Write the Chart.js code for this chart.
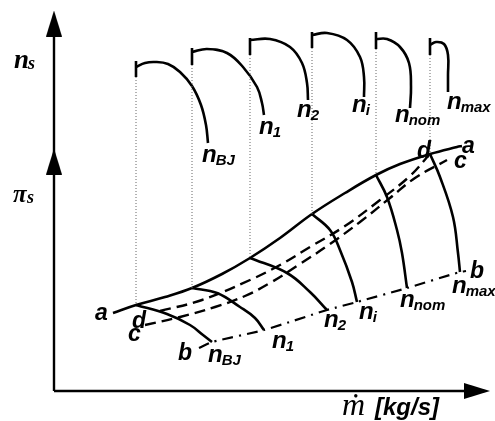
<!DOCTYPE html>
<html>
<head>
<meta charset="utf-8">
<script src="https://cdn.jsdelivr.net/npm/chart.js@4.4.0/dist/chart.umd.min.js"></script>
<style>
  body { margin: 0; background: #fff; }
  #wrap { width: 495px; height: 421px; position: relative; }
</style>
</head>
<body>
<div id="wrap"><canvas id="map"></canvas></div>
<script>
// schematic units: x = mass flow, y = pressure ratio / speed (origin at axis corner)

// speed lines, names
var speedNames = ['BJ', '1', '2', 'i', 'nom', 'max'];

// surge line a-d
var surgeLine = [[59,78],[82,86],[111,94],[138,103],[168,117],[196,133],[226,153],[258,177],[291,198],[322,216],[346,227],[376,237],[403,244],[408,245]];

// choke line b
var chokeLine = [[145,43],[158,49],[210,61],[273,81],[303,89],[353,103],[406,119],[412,120]];

// operating lines
var lineD = [[106,80],[148,91],[196,111],[226,126],[256,144],[291,165],[326,191],[356,215],[375,236]];
var lineC = [[91,66],[126,74],[161,84],[191,95],[216,108],[246,127],[276,147],[306,169],[336,193],[361,213],[393,231]];

// constant speed lines on the compressor map
var mapBJ  = [[82,86],[113,77],[136,66],[149,56],[158,49]];
var map1   = [[138,103],[163,98],[186,84],[201,73],[210,61]];
var map2   = [[196,133],[233,118],[256,99],[273,81]];
var mapI   = [[258,177],[276,161],[286,141],[298,109],[303,89]];
var mapNom = [[322,216],[333,194],[343,161],[348,138],[353,103]];
var mapMax = [[376,237],[386,214],[399,174],[404,138],[406,119]];

// speed curves in the upper diagram
var topBJ  = [[82,324],[91,328],[101,329],[114,327],[126,319],[138,305],[147,286],[152,266],[154,248]];
var top1   = [[138,339],[153,342],[173,338],[189,324],[203,304],[208,288],[210,276]];
var top2   = [[196,351],[216,352],[236,344],[248,328],[253,308],[254,291]];
var topI   = [[258,356],[273,358],[293,351],[306,334],[310,314],[310,294]];
var topNom = [[322,352],[333,352],[346,344],[355,328],[357,304],[356,283]];
var topMax = [[376,346],[382,349],[390,347],[394,336],[394,316],[394,299]];

// start bars of the upper curves [x, yTop, yBottom]
var topBars = [[82,330,314],[138,343,326],[196,353,336],[258,359,343],[322,359,342],[376,353,336]];

// label anchors (left x, baseline y)
var topLabelPos = [[148,229],[205,257],[243,274],[298,279],[341,269],[393,282]];
var mapLabelPos = [[154,29],[218,43],[270,64],[305,72],[346,84],[398,98]];
var letterText = ['a','d','c','b','d','a','c','b'];
var letterPos = [[41,71],[78,63],[74,50],[124,31],[363,233],[408,238],[400,223],[416,113]];

function pts(arr) {
    return arr.map(function (p) { return {x: p[0], y: p[1]}; });
}

// arrow head used as point style
function makeArrow() {
    var c = document.createElement('canvas');
    c.width = 18; c.height = 26;
    var g = c.getContext('2d');
    g.fillStyle = '#000';
    g.beginPath();
    g.moveTo(9, 0);
    g.lineTo(17, 26);
    g.lineTo(1, 26);
    g.closePath();
    g.fill();
    return c;
}
var arrow = makeArrow();

function solid(data, w) {
    return {data: pts(data), showLine: true, borderColor: '#000', borderWidth: w || 2.6,
            pointRadius: 0, tension: 0.4, fill: false};
}

var datasets = [];
// axes
datasets.push({data: pts([[0,0],[0,362]]), showLine: true, borderColor: '#000', borderWidth: 2.4, pointRadius: 0});
datasets.push({data: pts([[0,0],[418,0]]), showLine: true, borderColor: '#000', borderWidth: 2.4, pointRadius: 0});
datasets.push({data: pts([[0,367.5],[0,229.5]]), showLine: false, pointStyle: arrow, pointRadius: 10, pointRotation: 0});
datasets.push({data: pts([[423,0]]), showLine: false, pointStyle: arrow, pointRadius: 10, pointRotation: 90});

// dotted guides from the upper bars down to the surge line
var surgeY = [86,103,133,177,216,237];
topBars.forEach(function (b, i) {
    datasets.push({data: pts([[b[0], b[2]], [b[0], surgeY[i]]]), showLine: true, borderColor: '#666',
                   borderWidth: 1, borderDash: [1, 2], pointRadius: 0});
    datasets.push({data: pts([[b[0], b[1]], [b[0], b[2]]]), showLine: true, borderColor: '#000',
                   borderWidth: 2.6, pointRadius: 0});
});

[topBJ, top1, top2, topI, topNom, topMax].forEach(function (d) { datasets.push(solid(d)); });
[mapBJ, map1, map2, mapI, mapNom, mapMax].forEach(function (d) { datasets.push(solid(d)); });
datasets.push(solid(surgeLine));

var dashD = solid(lineD, 2.4); dashD.borderDash = [11, 6]; datasets.push(dashD);
var dashC = solid(lineC, 2.4); dashC.borderDash = [11, 6]; datasets.push(dashC);
var dashB = solid(chokeLine, 2.2); dashB.borderDash = [11, 6, 2, 6]; dashB.tension = 0.2; datasets.push(dashB);

var SANS = '"Liberation Sans", Arial, sans-serif';
var SERIF = '"Liberation Serif", "Times New Roman", serif';

var textPlugin = {
    id: 'texts',
    afterDatasetsDraw: function (chart) {
        var ctx = chart.ctx;
        var xs = chart.scales.x, ys = chart.scales.y;
        function px(p) { return [xs.getPixelForValue(p[0]), ys.getPixelForValue(p[1])]; }
        function nLabel(p, sub) {
            var q = px(p);
            ctx.font = 'italic bold 24px ' + SANS;
            ctx.fillText('n', q[0], q[1]);
            var w = ctx.measureText('n').width;
            ctx.font = 'italic bold 15px ' + SANS;
            ctx.fillText(sub, q[0] + w - 1, q[1] + 3);
        }
        ctx.save();
        ctx.fillStyle = '#000';
        ctx.textBaseline = 'alphabetic';
        ctx.textAlign = 'left';
        speedNames.forEach(function (s, i) {
            nLabel(topLabelPos[i], s);
            nLabel(mapLabelPos[i], s);
        });
        ctx.font = 'italic bold 23px ' + SANS;
        letterText.forEach(function (t, i) {
            var q = px(letterPos[i]);
            ctx.fillText(t, q[0], q[1]);
        });
        // axis names
        var q = px([-40, 323]);
        ctx.font = 'italic bold 27px ' + SERIF;
        ctx.fillText('n', q[0], q[1]);
        ctx.font = 'italic bold 18px ' + SERIF;
        ctx.fillText('s', q[0] + 14, q[1] + 1);
        q = px([-41, 189]);
        ctx.font = 'italic bold 25px ' + SERIF;
        ctx.fillText('\u03C0', q[0], q[1]);
        ctx.font = 'italic bold 18px ' + SERIF;
        ctx.fillText('s', q[0] + 14, q[1] + 1);
        q = px([288, -24]);
        ctx.font = 'italic 32px ' + SERIF;
        ctx.fillText('\u1E41', q[0], q[1]);
        q = px([321, -24]);
        ctx.font = 'italic bold 24px ' + SANS;
        ctx.fillText('[kg/s]', q[0], q[1]);
        ctx.restore();
    }
};

var myChart = new Chart(document.getElementById('map'), {
    type: 'scatter',
    data: {datasets: datasets},
    options: {
        responsive: true,
        maintainAspectRatio: false,
        animation: false,
        layout: {padding: 0, autoPadding: false},
        plugins: {legend: {display: false}, tooltip: {enabled: false}},
        scales: {
            x: {type: 'linear', min: -54, max: 441, display: false},
            y: {type: 'linear', min: -30, max: 391, display: false}
        }
    },
    plugins: [textPlugin]
});
</script>
</body>
</html>
